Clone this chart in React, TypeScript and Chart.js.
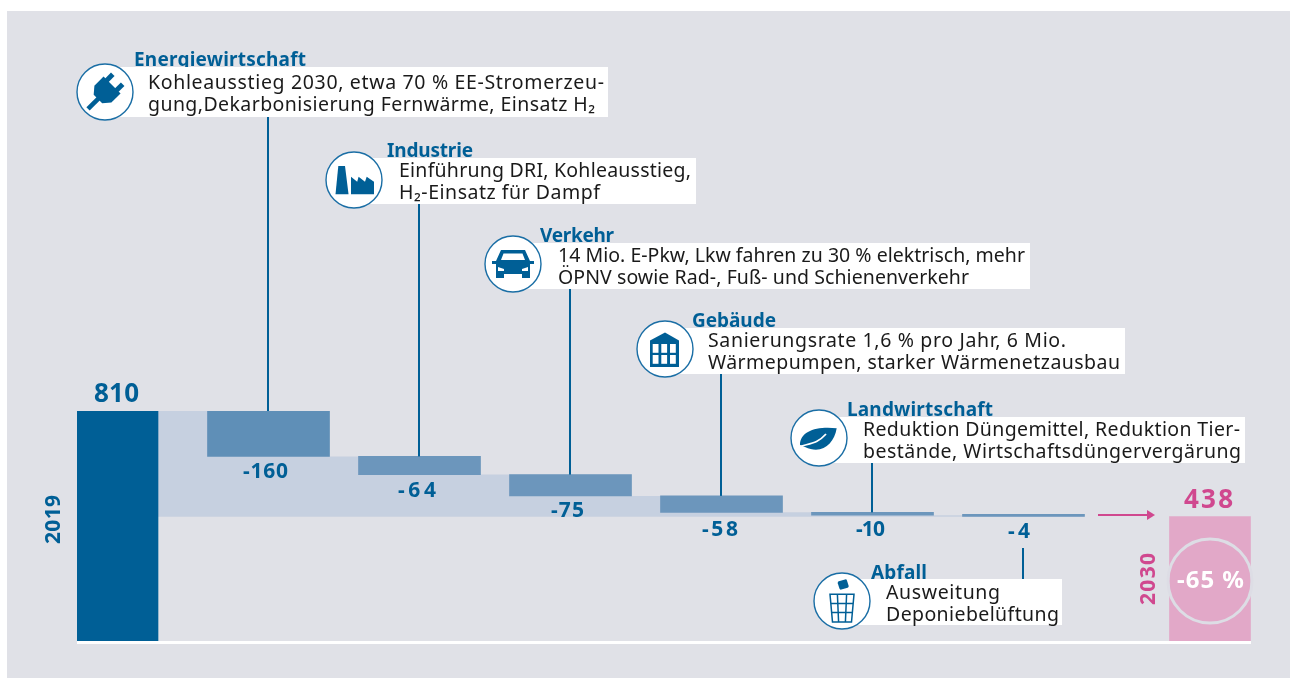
import React, { useEffect, useRef } from "react";
import { Chart, registerables } from "chart.js";

Chart.register(...registerables);

// ---------- data ----------
const categories = ["2019", "Energiewirtschaft", "Industrie", "Verkehr", "Gebäude", "Landwirtschaft", "Abfall", "2030"];
const startValue = 810;
const endValue = 438;
const reductions = [160, 64, 75, 58, 10, 4];
const percentChange = "-65 %";

const sectorDescriptions = [
  ["Kohleausstieg 2030, etwa 70 % EE-Stromerzeu-", "gung,Dekarbonisierung Fernwärme, Einsatz H₂"],
  ["Einführung DRI, Kohleausstieg,", "H₂-Einsatz für Dampf"],
  ["14 Mio. E-Pkw, Lkw fahren zu 30 % elektrisch, mehr", "ÖPNV sowie Rad-, Fuß- und Schienenverkehr"],
  ["Sanierungsrate 1,6 % pro Jahr, 6 Mio.", "Wärmepumpen, starker Wärmenetzausbau"],
  ["Reduktion Düngemittel, Reduktion Tier-", "bestände, Wirtschaftsdüngervergärung"],
  ["Ausweitung", "Deponiebelüftung"],
];

// ---------- layout & style ----------
const W = 1290;
const H = 678;
const STEP = 151;
const X0 = 117.5;
const AREA = { left: 77, right: 1251, top: 411, bottom: 641 };
const xMin = (AREA.left - X0) / STEP;
const xMax = (AREA.right - X0) / STEP;
const xPositions = [0, 1, 2, 3, 4, 5, 6, 7.235];
const BLUE = "#005f96";
const PINK = "#d0488f";
const FONT = '"Noto Sans", sans-serif';

type Card = {
  icon: string; cx: number; cy: number; boxRight: number; boxTop: number; boxBottom: number;
  titleX: number; titleW: number; titleY: number;
  textX: number; widths: number[]; baselines: number[];
  lineFromBox: boolean;
};
const cards: Card[] = [
  { icon: "plug", cx: 105, cy: 92, boxRight: 608, boxTop: 67, boxBottom: 117, titleX: 134, titleW: 172, titleY: 66, textX: 148, widths: [456, 447], baselines: [89, 111], lineFromBox: true },
  { icon: "factory", cx: 354, cy: 180, boxRight: 696, boxTop: 158, boxBottom: 204, titleX: 387, titleW: 86, titleY: 157, textX: 399, widths: [292, 201], baselines: [177, 199], lineFromBox: true },
  { icon: "car", cx: 513, cy: 264, boxRight: 1030, boxTop: 243, boxBottom: 289, titleX: 540, titleW: 74, titleY: 242, textX: 558, widths: [467, 411], baselines: [262, 284], lineFromBox: true },
  { icon: "building", cx: 665, cy: 349, boxRight: 1125, boxTop: 328, boxBottom: 374, titleX: 692, titleW: 84, titleY: 327, textX: 708, widths: [358, 412], baselines: [347, 369], lineFromBox: true },
  { icon: "leaf", cx: 819, cy: 438, boxRight: 1245, boxTop: 417, boxBottom: 463, titleX: 847, titleW: 146, titleY: 416, textX: 863, widths: [377, 378], baselines: [436, 458], lineFromBox: true },
  { icon: "trash", cx: 842, cy: 601, boxRight: 1062, boxTop: 579, boxBottom: 625, titleX: 871, titleW: 56, titleY: 579, textX: 886, widths: [114, 173], baselines: [599, 621], lineFromBox: false },
];
const reductionLabelLayout = [
  { x: 243, w: 45, y: 478 },
  { x: 398, w: 38, y: 497 },
  { x: 551, w: 33, y: 517 },
  { x: 702, w: 36, y: 536 },
  { x: 856, w: 29, y: 536 },
  { x: 1008, w: 22, y: 538 },
];

function fitText(ctx: any, text: string, x: number, y: number, width: number, font: string, color: string) {
  ctx.save();
  ctx.font = font;
  ctx.fillStyle = color;
  ctx.textAlign = "left";
  ctx.textBaseline = "alphabetic";
  ctx.letterSpacing = "0px";
  const m = ctx.measureText(text).width;
  const n = Math.max(text.length - 1, 1);
  ctx.letterSpacing = (width - m) / n + "px";
  ctx.fillText(text, x, y);
  ctx.restore();
}

function poly(ctx: any, pts: number[][]) {
  ctx.beginPath();
  pts.forEach((p, i) => (i ? ctx.lineTo(p[0], p[1]) : ctx.moveTo(p[0], p[1])));
  ctx.closePath();
  ctx.fill();
}

function drawIcon(ctx: any, kind: string) {
  ctx.fillStyle = BLUE;
  ctx.strokeStyle = BLUE;
  if (kind === "plug") {
    ctx.save();
    ctx.rotate(Math.PI / 4);
    poly(ctx, [[-12, -10], [12, -10], [12, 3], [6, 10], [-6, 10], [-12, 3]]);
    ctx.fillRect(-9.5, -18, 5, 9);
    ctx.fillRect(4.5, -18, 5, 9);
    ctx.fillRect(-2.3, 9, 4.6, 15);
    ctx.restore();
  } else if (kind === "factory") {
    poly(ctx, [[-15.7, -14], [-9, -14], [-5.5, 14.3], [-18.5, 14.3]]);
    poly(ctx, [[-3, 14.3], [-3, -3.3], [3.2, 1.7], [4.6, -3.3], [11, 1.7], [12.7, -3.3], [20, 1.7], [20, 14.3]]);
  } else if (kind === "car") {
    poly(ctx, [[-12, -14], [12, -14], [17, -3], [21, -3], [21, 0], [17, 0], [17, 14], [9, 14], [9, 10], [-9, 10], [-9, 14], [-17, 14], [-17, 0], [-21, 0], [-21, -3], [-17, -3]]);
    ctx.fillStyle = "#fff";
    poly(ctx, [[-9.5, -10.5], [9.5, -10.5], [12, -4], [-12, -4]]);
    poly(ctx, [[-15, 3], [-9, 5], [-9, 7], [-15, 7]]);
    poly(ctx, [[15, 3], [9, 5], [9, 7], [15, 7]]);
  } else if (kind === "building") {
    poly(ctx, [[0, -16.5], [14, -8.5], [14, 18], [-15, 18], [-15, -8.5]]);
    ctx.fillStyle = "#fff";
    for (const x of [-12.3, -3.7, 5]) {
      for (const y of [-5, 6]) ctx.fillRect(x, y, 5.8, 8.8);
    }
  } else if (kind === "leaf") {
    ctx.beginPath();
    ctx.moveTo(-19, 7);
    ctx.bezierCurveTo(-19, -7, -2, -12, 17.7, -9.7);
    ctx.bezierCurveTo(15, 6, 3, 17, -14, 9);
    ctx.closePath();
    ctx.fill();
    ctx.strokeStyle = "#fff";
    ctx.lineWidth = 1.8;
    ctx.beginPath();
    ctx.moveTo(-21, 9);
    ctx.bezierCurveTo(-8, 5, -2, 6, 7, -4);
    ctx.stroke();
  } else if (kind === "trash") {
    ctx.save();
    ctx.translate(1.2, -16.5);
    ctx.rotate(-0.3);
    ctx.beginPath();
    ctx.roundRect(-4.8, -4.3, 9.6, 8.6, 1.5);
    ctx.fill();
    ctx.restore();
    ctx.lineWidth = 1.5;
    ctx.beginPath();
    ctx.moveTo(-12, -6.7); ctx.lineTo(12, -6.7); ctx.lineTo(9.5, 21); ctx.lineTo(-9.5, 21); ctx.closePath();
    ctx.moveTo(-11.6, 2.5); ctx.lineTo(11.6, 2.5);
    ctx.moveTo(-10.8, 11.5); ctx.lineTo(10.8, 11.5);
    ctx.moveTo(-4.6, -6.7); ctx.lineTo(-3.4, 21);
    ctx.moveTo(4.6, -6.7); ctx.lineTo(3.4, 21);
    ctx.stroke();
  }
}

const overlayPlugin = {
  id: "overlay",
  afterDatasetsDraw(chart: any) {
    const { ctx, scales } = chart;
    const x = scales.x;
    const y = scales.y;
    ctx.save();

    // white base line
    ctx.fillStyle = "#ffffff";
    ctx.fillRect(AREA.left, y.getPixelForValue(0), AREA.right - AREA.left, 3);

    // connectors
    ctx.fillStyle = BLUE;
    let level = startValue;
    cards.forEach((c, i) => {
      const px = Math.floor(x.getPixelForValue(xPositions[i + 1]));
      if (c.lineFromBox) {
        const barTop = y.getPixelForValue(level);
        ctx.fillRect(px - 1, c.boxBottom, 2, barTop - c.boxBottom);
      } else {
        ctx.fillRect(px - 1, 548, 2, c.boxTop - 548);
      }
      level -= reductions[i];
    });

    // cards
    cards.forEach((c, i) => {
      fitText(ctx, categories[i + 1], c.titleX, c.titleY, c.titleW, `bold 19px ${FONT}`, BLUE);
      ctx.fillStyle = "#ffffff";
      ctx.fillRect(c.cx, c.boxTop, c.boxRight - c.cx, c.boxBottom - c.boxTop);
      sectorDescriptions[i].forEach((line, j) => {
        fitText(ctx, line, c.textX, c.baselines[j], c.widths[j], `19.5px ${FONT}`, "#1a1a1a");
      });
      ctx.save();
      ctx.translate(c.cx, c.cy);
      ctx.beginPath();
      ctx.arc(0, 0, 28, 0, Math.PI * 2);
      ctx.fillStyle = "#ffffff";
      ctx.fill();
      ctx.strokeStyle = "#1a6ea5";
      ctx.lineWidth = 1.4;
      ctx.stroke();
      drawIcon(ctx, c.icon);
      ctx.restore();
    });

    // value labels
    fitText(ctx, String(startValue), 94, 402, 45, `bold 26px ${FONT}`, BLUE);
    reductions.forEach((v, i) => {
      const l = reductionLabelLayout[i];
      fitText(ctx, "-" + v, l.x, l.y, l.w, `bold 21px ${FONT}`, BLUE);
    });
    fitText(ctx, String(endValue), 1184, 508, 49, `bold 26px ${FONT}`, PINK);

    // rotated year labels
    ctx.save();
    ctx.translate(60, 544);
    ctx.rotate(-Math.PI / 2);
    fitText(ctx, categories[0], 0, 0, 49, `bold 21px ${FONT}`, BLUE);
    ctx.restore();
    ctx.save();
    ctx.translate(1155, 605);
    ctx.rotate(-Math.PI / 2);
    fitText(ctx, categories[7], 0, 0, 52, `bold 21px ${FONT}`, PINK);
    ctx.restore();

    // arrow
    ctx.fillStyle = PINK;
    ctx.fillRect(1098, 514, 50, 2);
    poly(ctx, [[1147, 510], [1155, 515], [1147, 520]]);

    // percent circle
    ctx.beginPath();
    ctx.arc(1210, 581, 42, 0, Math.PI * 2);
    ctx.strokeStyle = "#dddde5";
    ctx.lineWidth = 3;
    ctx.stroke();
    fitText(ctx, percentChange, 1177, 588, 67, `bold 24px ${FONT}`, "#ffffff");

    ctx.restore();
  },
};

export default function App() {
  const ref = useRef<HTMLCanvasElement | null>(null);

  useEffect(() => {
    if (!ref.current) return;
    const levels: number[] = [startValue];
    reductions.forEach((r) => levels.push(levels[levels.length - 1] - r));

    const totalsData = [
      { x: xPositions[0], y: [0, startValue] },
      { x: xPositions[7], y: [0, endValue] },
    ];
    const stepsData = reductions.map((r, i) => ({ x: xPositions[i + 1], y: [levels[i + 1], levels[i]] }));
    const bandData = [
      { x: xPositions[0] + 40.5 / STEP, y: levels[0] },
      ...reductions.map((_, i) => ({
        x: xPositions[i + 1] + 61 / STEP,
        y: levels[Math.min(i + 1, reductions.length - 1)],
      })),
    ];

    const chart = new Chart(ref.current, {
      type: "bar",
      data: {
        datasets: [
          {
            type: "line",
            label: "Verlauf",
            data: bandData,
            stepped: "before",
            borderWidth: 0,
            pointRadius: 0,
            backgroundColor: "#c6d0e0",
            fill: { value: endValue },
            order: 3,
          },
          {
            label: "Minderung",
            data: stepsData,
            barThickness: 122,
            grouped: false,
            minBarLength: 2,
            backgroundColor: ["#5f8fb7", "#6c96bc", "#6c96bc", "#6c96bc", "#6c96bc", "#6c96bc"],
            order: 2,
          },
          {
            label: "Gesamt",
            data: totalsData,
            barThickness: 81,
            grouped: false,
            backgroundColor: [BLUE, "#e2a8c8"],
            order: 1,
          },
        ] as any,
      },
      options: {
        animation: false,
        responsive: false,
        devicePixelRatio: 1,
        layout: {
          padding: { left: AREA.left, right: W - AREA.right, top: AREA.top, bottom: H - AREA.bottom },
        },
        plugins: { legend: { display: false }, tooltip: { enabled: false } },
        scales: {
          x: { type: "linear", min: xMin, max: xMax, display: false, offset: false },
          y: { type: "linear", min: 0, max: startValue, display: false },
        },
      },
      plugins: [overlayPlugin],
    } as any);
    return () => chart.destroy();
  }, []);

  return (
    <div style={{ position: "absolute", left: 0, top: 0, width: W, height: H, overflow: "hidden", background: "#fff" }}>
      <div style={{ position: "absolute", left: 7, top: 11, right: 0, bottom: 0, background: "#e0e1e7" }} />
      <canvas ref={ref} width={W} height={H} style={{ position: "absolute", left: 0, top: 0, display: "block" }} />
    </div>
  );
}
